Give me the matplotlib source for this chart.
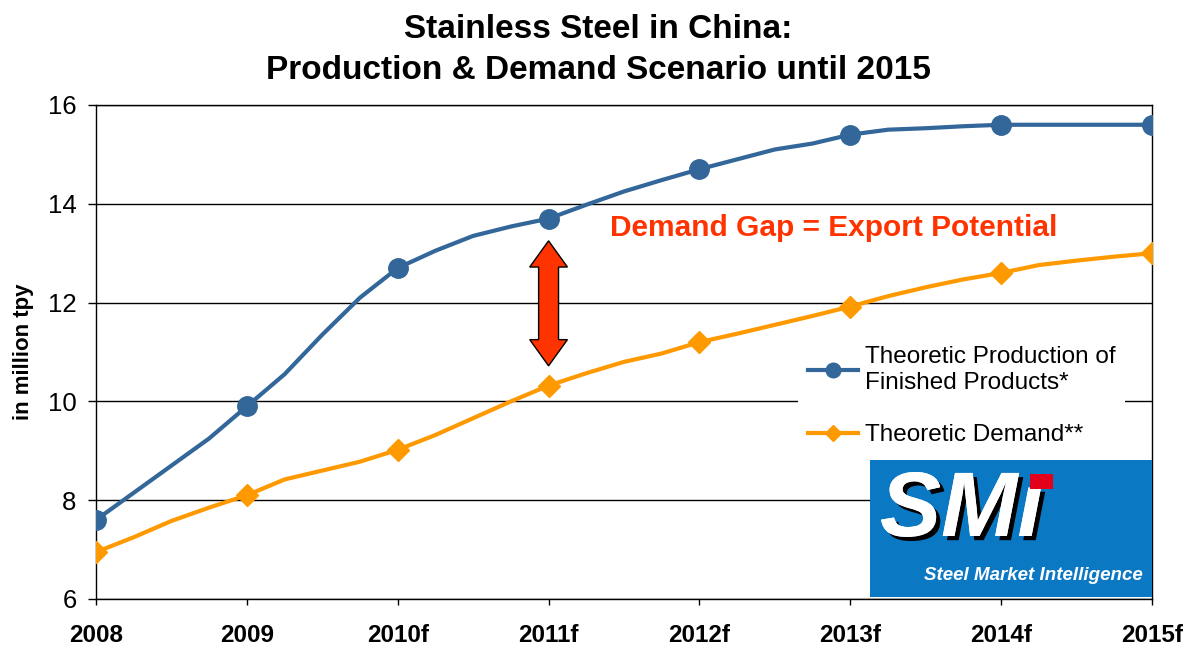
import numpy as np
import matplotlib
matplotlib.use('Agg')
import matplotlib.pyplot as plt
import matplotlib.patches as mpatches
import matplotlib.patheffects as pe

plt.rcParams['font.family'] = ['Liberation Sans', 'DejaVu Sans']

years = ['2008', '2009', '2010f', '2011f', '2012f', '2013f', '2014f', '2015f']
# quarterly values; markers only on the full years
production = [7.6, 8.15, 8.7, 9.25,
              9.9, 10.55, 11.35, 12.1,
              12.7, 13.05, 13.35, 13.54,
              13.7, 13.98, 14.25, 14.48,
              14.7, 14.9, 15.1, 15.22,
              15.4, 15.5, 15.53, 15.57,
              15.6, 15.6, 15.6, 15.6,
              15.6]
demand = [6.95, 7.25, 7.58, 7.85,
          8.1, 8.42, 8.6, 8.78,
          9.02, 9.32, 9.66, 10.0,
          10.32, 10.57, 10.8, 10.97,
          11.2, 11.37, 11.55, 11.73,
          11.92, 12.13, 12.31, 12.47,
          12.6, 12.76, 12.85, 12.93,
          13.0]
labels = ['Theoretic Production of\nFinished Products*', 'Theoretic Demand**']

# gap arrow (year index, top, bottom)
gap_year = 3
gap_top = 13.25
gap_bottom = 10.72

blue = '#336699'
orange = '#FF9900'
red = '#FF3300'

fig = plt.figure(figsize=(11.96, 6.48), dpi=100)
ax = fig.add_axes([96 / 1196, 1 - 599 / 648, 1056 / 1196, 494 / 648])

xq = np.arange(len(production)) / 4
ax.plot(xq, production, color=blue, lw=3, marker='o', ms=14, markevery=4,
        label=labels[0], zorder=4)
ax.plot(xq, demand, color=orange, lw=3, marker='D', ms=11, markevery=4,
        label=labels[1], zorder=3)

ax.set_xlim(0, len(years) - 1)
ax.set_ylim(6, 16)
ax.set_xticks(range(len(years)))
ax.set_xticklabels(years, fontweight='bold', fontsize=17.5)
ax.set_yticks([6, 8, 10, 12, 14, 16])
ax.tick_params(axis='y', labelsize=18.5, length=6, width=1, pad=8)
ax.tick_params(axis='x', length=4, width=1, pad=14)
ax.set_ylabel('in million tpy', fontsize=16, fontweight='bold', labelpad=10)
ax.grid(axis='y', color='black', lw=1)
for s in ax.spines.values():
    s.set_color('black')
    s.set_linewidth(1)
ax.set_axisbelow(True)

# double headed arrow for the gap
hw, sw = 0.125, 0.066
hl = 0.53
arrow = mpatches.Polygon([
    (gap_year, gap_top), (gap_year + hw, gap_top - hl), (gap_year + sw, gap_top - hl),
    (gap_year + sw, gap_bottom + hl), (gap_year + hw, gap_bottom + hl),
    (gap_year, gap_bottom), (gap_year - hw, gap_bottom + hl), (gap_year - sw, gap_bottom + hl),
    (gap_year - sw, gap_top - hl), (gap_year - hw, gap_top - hl)],
    closed=True, facecolor=red, edgecolor='black', lw=1, zorder=5)
ax.add_patch(arrow)
ax.text(3.41, 13.5, 'Demand Gap = Export Potential', color=red, fontsize=21.5,
        fontweight='bold', va='center', ha='left')

leg = ax.legend(loc='upper left', bbox_to_anchor=(0.665, 0.531), fontsize=17.5,
                frameon=True, fancybox=False, edgecolor='none', framealpha=1,
                handlelength=2.05, handletextpad=0.3, labelspacing=1.25,
                markerscale=0.75, borderpad=0.4, borderaxespad=0)

# SMI logo box
logo = mpatches.Rectangle((870 / 1196, 1 - 597 / 648), 282 / 1196, 137 / 648,
                          transform=fig.transFigure, facecolor='#0B78C4',
                          edgecolor='none', zorder=10)
fig.patches.append(logo)
fig.text(880 / 1196, 1 - 536 / 648, 'SM\u0131', color='white', fontsize=66,
         fontweight='bold', style='italic', ha='left', va='baseline', zorder=11,
         path_effects=[pe.withSimplePatchShadow(offset=(3, -3), shadow_rgbFace='black', alpha=1),
                       pe.Normal()])
sq = mpatches.Rectangle((1030 / 1196, 1 - 489 / 648), 23 / 1196, 15 / 648,
                        transform=fig.transFigure, facecolor='#E2001A',
                        edgecolor='none', zorder=12)
fig.patches.append(sq)
fig.text(1143 / 1196, 1 - 576 / 648, 'Steel Market Intelligence', color='white',
         fontsize=13.5, fontweight='bold', style='italic', ha='right', va='center',
         zorder=11)

fig.text(0.5, 1 - 50 / 648, 'Stainless Steel in China:\nProduction & Demand Scenario until 2015',
         ha='center', va='center', fontsize=24, fontweight='bold', linespacing=1.4)

fig.savefig('out.png', dpi=100)
